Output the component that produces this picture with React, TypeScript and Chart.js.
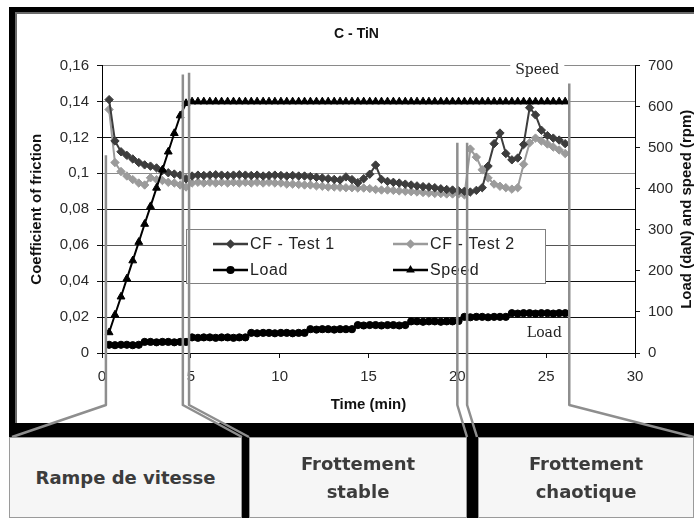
import React, { useEffect, useRef } from "react";
import { Chart, registerables } from "chart.js";

Chart.register(...registerables);

// ---------- data ----------
const TIME = [
  0.4, 0.73, 1.07, 1.4, 1.73, 2.07, 2.4, 2.73, 3.07, 3.4, 3.73, 4.07, 4.4, 4.73,
  5.07, 5.4, 5.73, 6.07, 6.4, 6.73, 7.07, 7.4, 7.73, 8.07, 8.4, 8.73, 9.07, 9.4,
  9.73, 10.07, 10.4, 10.73, 11.07, 11.4, 11.73, 12.07, 12.4, 12.73, 13.07, 13.4,
  13.73, 14.07, 14.4, 14.73, 15.07, 15.4, 15.73, 16.07, 16.4, 16.73, 17.07, 17.4,
  17.73, 18.07, 18.4, 18.73, 19.07, 19.4, 19.73, 20.07, 20.4, 20.73, 21.07, 21.4,
  21.73, 22.07, 22.4, 22.73, 23.07, 23.4, 23.73, 24.07, 24.4, 24.73, 25.07, 25.4,
  25.73, 26.07,
];

const CF_TEST1 = [
  0.141, 0.118, 0.112, 0.11, 0.108, 0.106, 0.1047, 0.104, 0.103, 0.1015, 0.1003, 0.0996, 0.099, 0.097,
  0.0985, 0.099, 0.0988, 0.099, 0.0992, 0.099, 0.0988, 0.099, 0.0992, 0.099, 0.0988, 0.099, 0.0985, 0.0988,
  0.099, 0.0988, 0.0985, 0.0988, 0.0985, 0.0985, 0.0982, 0.0978, 0.0974, 0.097, 0.0966, 0.0963,
  0.098, 0.0965, 0.0948, 0.097, 0.0995, 0.1046, 0.0966, 0.0955, 0.095, 0.0946, 0.094, 0.0935,
  0.093, 0.0926, 0.0924, 0.092, 0.0914, 0.091, 0.0907, 0.0903, 0.09, 0.0896, 0.0905, 0.092,
  0.104, 0.1165, 0.1224, 0.111, 0.1075, 0.1085, 0.116, 0.1365, 0.1325, 0.124, 0.121, 0.1196,
  0.1185, 0.1165,
];

const CF_TEST2 = [
  0.1355, 0.106, 0.101, 0.0985, 0.0965, 0.0946, 0.0935, 0.0975, 0.0965, 0.096, 0.095, 0.0946, 0.0935, 0.0924,
  0.0946, 0.095, 0.0946, 0.095, 0.0946, 0.095, 0.0946, 0.095, 0.0946, 0.095, 0.0946, 0.095, 0.0946, 0.095,
  0.0946, 0.0946, 0.094, 0.094, 0.0938, 0.0935, 0.0935, 0.093, 0.0928, 0.0924, 0.0924, 0.0922,
  0.092, 0.092, 0.0918, 0.0918, 0.0915, 0.091, 0.0907, 0.0907, 0.0905, 0.0902, 0.09, 0.0898,
  0.0896, 0.0893, 0.089, 0.0888, 0.0887, 0.0885, 0.0885, 0.0885, 0.088, 0.1135, 0.109, 0.102,
  0.0974, 0.094, 0.0928, 0.092, 0.0912, 0.092, 0.105, 0.117, 0.1196, 0.118, 0.1163, 0.1146,
  0.113, 0.111,
];

const LOAD = [
  20, 19, 20, 20, 19, 20,
  27, 27, 26, 27, 27, 26, 27, 27,
  38, 37, 38, 38, 37, 38, 38, 37, 38, 38,
  49, 48, 49, 49, 48, 49, 49, 48, 49, 49,
  58, 57, 58, 58, 57, 58, 58, 58,
  68, 67, 68, 68, 67, 68, 68, 67, 68,
  77, 77, 76, 77, 77, 76, 77, 77, 78,
  88, 87, 88, 88, 87, 88, 88, 88,
  97, 96, 97, 97, 96, 97, 97, 96, 97, 97,
];

const SPEED = [
  50, 93, 137, 181, 225, 270, 314, 357, 402, 446, 490, 535, 578, 608,
  612, 612, 612, 612, 612, 612, 612, 612, 612, 612, 612, 612, 612, 612,
  612, 612, 612, 612, 612, 612, 612, 612, 612, 612, 612, 612, 612, 612,
  612, 612, 612, 612, 612, 612, 612, 612, 612, 612, 612, 612, 612, 612,
  612, 612, 612, 612, 612, 612, 612, 612, 612, 612, 612, 612, 612, 612,
  612, 612, 612, 612, 612, 612, 612, 612,
];

const SERIES_LABELS = ["CF - Test 1", "CF - Test 2", "Load", "Speed"];
const TITLE = "C - TiN";
const X_TITLE = "Time (min)";
const Y_TITLE = "Coefficient of friction";
const Y2_TITLE = "Load (daN) and speed (rpm)";
const X_MAX = 30;
const X_STEP = 5;
const CF_MAX = 0.16;
const CF_STEP = 0.02;
const RPM_MAX = 700;
const RPM_STEP = 100;

// phase separators: time (min) and CF level where each line starts
const PHASE_T = [0.22, 4.55, 4.9, 20.0, 20.55, 26.3];
const PHASE_TOP = [0.11, 0.155, 0.156, 0.117, 0.117, 0.15];
const PHASE_LABELS = [["Rampe de vitesse"], ["Frottement", "stable"], ["Frottement", "chaotique"]];

// ---------- layout / style ----------
const W = 694;
const H = 521;
const FONT = "'Liberation Sans', Arial, sans-serif";
const PHASE_END_X = [12, 242, 249, 467, 477, 694];
const BAND_TOP = 423;
const BOX_TOP = 437;
const BOX_BOTTOM = 518;
const BOXES = [
  { left: 9, right: 242 },
  { left: 249, right: 467 },
  { left: 478, right: 694 },
];

const pts = (ys: number[]) => TIME.map((t, i) => ({ x: t, y: ys[i] }));

function drawMarker(ctx: CanvasRenderingContext2D, style: string, x: number, y: number, r: number) {
  ctx.beginPath();
  if (style === "rectRot") {
    ctx.moveTo(x, y - r);
    ctx.lineTo(x + r, y);
    ctx.lineTo(x, y + r);
    ctx.lineTo(x - r, y);
    ctx.closePath();
  } else if (style === "triangle") {
    ctx.moveTo(x, y - r);
    ctx.lineTo(x + r * 0.866, y + r * 0.5);
    ctx.lineTo(x - r * 0.866, y + r * 0.5);
    ctx.closePath();
  } else {
    ctx.arc(x, y, r, 0, Math.PI * 2);
  }
  ctx.fill();
}

const framePlugin = {
  id: "frame",
  beforeDraw(chart: any) {
    const ctx = chart.ctx as CanvasRenderingContext2D;
    ctx.save();
    ctx.fillStyle = "#ffffff";
    ctx.fillRect(0, 0, chart.width, chart.height);
    ctx.fillStyle = "#000000";
    ctx.fillRect(9, 7, 6, BAND_TOP - 7);
    ctx.fillRect(9, 7, W - 9, 5);
    ctx.fillStyle = "#6a6a6a";
    ctx.fillRect(15, 12, 2, BAND_TOP - 12);
    ctx.fillRect(15, 12, W - 15, 2);
    ctx.fillStyle = "#000000";
    ctx.fillRect(9, BAND_TOP, W - 9, BOX_BOTTOM - BAND_TOP);
    ctx.restore();
  },
};

const legendPlugin = {
  id: "boxLegend",
  afterDatasetsDraw(chart: any) {
    const ctx = chart.ctx as CanvasRenderingContext2D;
    const ca = chart.chartArea;
    const x0 = ca.left + 84;
    const y0 = ca.top + 163.5;
    const w = 359;
    const h = 54;
    ctx.save();
    ctx.fillStyle = "#ffffff";
    ctx.fillRect(x0, y0, w, h);
    ctx.strokeStyle = "#808080";
    ctx.lineWidth = 1;
    ctx.strokeRect(Math.round(x0) + 0.5, Math.round(y0) + 0.5, w, h);
    chart.data.datasets.forEach((ds: any, i: number) => {
      const col = i % 2;
      const row = Math.floor(i / 2);
      const sx = x0 + 27 + col * 180;
      const sy = y0 + 15 + row * 26;
      ctx.strokeStyle = ds.borderColor;
      ctx.lineWidth = 2.5;
      ctx.beginPath();
      ctx.moveTo(sx, sy);
      ctx.lineTo(sx + 35, sy);
      ctx.stroke();
      ctx.fillStyle = ds.borderColor;
      drawMarker(ctx, ds.pointStyle, sx + 17.5, sy, ds.pointRadius + 0.5);
      ctx.fillStyle = "#222222";
      ctx.font = `16px ${FONT}`;
      ctx.textBaseline = "middle";
      ctx.textAlign = "left";
      (ctx as any).letterSpacing = "0.6px";
      ctx.fillText(ds.label, sx + 37, sy + 1);
      (ctx as any).letterSpacing = "0px";
    });
    ctx.restore();
  },
};

const annotationPlugin = {
  id: "annotations",
  afterDraw(chart: any) {
    const ctx = chart.ctx as CanvasRenderingContext2D;
    const ca = chart.chartArea;
    const xs = chart.scales.x;
    const ys = chart.scales.y;
    const y2 = chart.scales.y2;
    ctx.save();
    // right axis title (reads bottom to top)
    ctx.fillStyle = "#111111";
    ctx.font = `bold 15px ${FONT}`;
    ctx.textAlign = "center";
    ctx.textBaseline = "middle";
    ctx.translate(y2.right - 2, (ca.top + ca.bottom) / 2);
    ctx.rotate(-Math.PI / 2);
    ctx.fillText(Y2_TITLE, 0, 0);
    ctx.setTransform(1, 0, 0, 1, 0, 0);

    // "Speed" / "Load" in-plot labels
    ctx.font = `14px 'DejaVu Serif', 'Liberation Serif', serif`;
    const spX = xs.getPixelForValue(24.5);
    const spY = ca.top + 4.5;
    const spW = ctx.measureText("Speed").width;
    ctx.fillStyle = "#ffffff";
    ctx.fillRect(spX - spW / 2 - 5, spY - 9, spW + 10, 18);
    ctx.fillStyle = "#222222";
    ctx.fillText("Speed", spX, spY);
    ctx.fillText("Load", xs.getPixelForValue(24.9), ca.bottom - 20);

    // phase separator lines
    ctx.strokeStyle = "#8e8e8e";
    ctx.lineWidth = 2.5;
    ctx.lineJoin = "round";
    const bendY = ca.bottom + 52;
    PHASE_T.forEach((t, i) => {
      const x = xs.getPixelForValue(t);
      ctx.beginPath();
      ctx.moveTo(x, ys.getPixelForValue(PHASE_TOP[i]));
      ctx.lineTo(x, bendY);
      ctx.lineTo(PHASE_END_X[i], BOX_TOP);
      ctx.stroke();
    });
    ctx.restore();
  },
};

function gridColor(c: any) {
  const v = Math.round((c.tick ? c.tick.value : 0) * 100);
  if (v === 16 || v === 14 || v === 10) return "#8a8a8a";
  if (v === 6) return "#555555";
  return "#111111";
}

export default function App() {
  const canvasRef = useRef<HTMLCanvasElement>(null);

  useEffect(() => {
    const canvas = canvasRef.current;
    if (!canvas) return;
    const chart = new Chart(canvas, {
      type: "line",
      data: {
        datasets: [
          {
            label: SERIES_LABELS[0],
            data: pts(CF_TEST1),
            yAxisID: "y",
            borderColor: "#3d3d3d",
            backgroundColor: "#3d3d3d",
            borderWidth: 2,
            pointStyle: "rectRot",
            pointRadius: 4.2,
            pointBorderWidth: 1,
            order: 2,
          },
          {
            label: SERIES_LABELS[1],
            data: pts(CF_TEST2),
            yAxisID: "y",
            borderColor: "#9b9b9b",
            backgroundColor: "#9b9b9b",
            borderWidth: 2,
            pointStyle: "rectRot",
            pointRadius: 4.2,
            pointBorderWidth: 1,
            order: 3,
          },
          {
            label: SERIES_LABELS[2],
            data: pts(LOAD),
            yAxisID: "y2",
            borderColor: "#000000",
            backgroundColor: "#000000",
            borderWidth: 2,
            pointStyle: "circle",
            pointRadius: 3.6,
            pointBorderWidth: 1,
            order: 1,
          },
          {
            label: SERIES_LABELS[3],
            data: pts(SPEED),
            yAxisID: "y2",
            borderColor: "#000000",
            backgroundColor: "#000000",
            borderWidth: 2,
            pointStyle: "triangle",
            pointRadius: 4.5,
            pointBorderWidth: 1,
            order: 0,
          },
        ] as any,
      },
      options: {
        responsive: false,
        animation: false,
        devicePixelRatio: 1,
        layout: { padding: { left: 24, right: 5, top: 14, bottom: 103 } },
        plugins: {
          legend: { display: false },
          tooltip: { enabled: false },
          title: {
            display: true,
            text: TITLE,
            color: "#111111",
            font: { family: FONT, size: 14, weight: "bold" },
            padding: { top: 12, bottom: 22.7 },
          },
        },
        scales: {
          x: {
            type: "linear",
            position: "bottom",
            min: 0,
            max: X_MAX,
            ticks: { stepSize: X_STEP, color: "#2a2a2a", font: { family: FONT, size: 15 }, padding: 10 },
            grid: { drawOnChartArea: false, tickLength: 5, color: "#111111", tickColor: "#111111" },
            border: { color: "#000000", width: 1 },
            title: {
              display: true,
              text: X_TITLE,
              color: "#111111",
              font: { family: FONT, size: 15, weight: "bold" },
              padding: { top: 4, bottom: 4 },
            },
            afterFit: (s: any) => {
              s.height = 65;
            },
          },
          y: {
            type: "linear",
            position: "left",
            min: 0,
            max: CF_MAX,
            ticks: {
              stepSize: CF_STEP,
              color: "#2a2a2a",
              font: { family: FONT, size: 15 },
              padding: 8,
              callback: (v: any) => String(Math.round(Number(v) * 100) / 100).replace(".", ","),
            },
            grid: { color: gridColor, tickLength: 5, tickColor: "#111111", lineWidth: 1 },
            border: { color: "#000000", width: 1 },
            title: {
              display: true,
              text: Y_TITLE,
              color: "#111111",
              font: { family: FONT, size: 15, weight: "bold" },
              padding: { top: 4, bottom: 4 },
            },
            afterFit: (s: any) => {
              s.width = 78;
            },
          },
          y2: {
            type: "linear",
            position: "right",
            min: 0,
            max: RPM_MAX,
            ticks: { stepSize: RPM_STEP, color: "#2a2a2a", font: { family: FONT, size: 15 }, padding: 8 },
            grid: { drawOnChartArea: false, tickLength: 5, color: "#111111", tickColor: "#111111" },
            border: { color: "#000000", width: 1 },
            afterFit: (s: any) => {
              s.width = 54;
            },
          },
        },
      } as any,
      plugins: [framePlugin, legendPlugin, annotationPlugin],
    });
    return () => chart.destroy();
  }, []);

  return (
    <div style={{ position: "absolute", left: 0, top: 0, width: W, height: H, background: "#ffffff", overflow: "hidden" }}>
      <canvas ref={canvasRef} width={W} height={H} style={{ position: "absolute", left: 0, top: 0 }} />
      {BOXES.map((b, i) => (
        <div
          key={i}
          style={{
            position: "absolute",
            left: b.left,
            top: BOX_TOP,
            width: b.right - b.left,
            height: BOX_BOTTOM - BOX_TOP,
            boxSizing: "border-box",
            border: "1px solid #9a9a9a",
            background: "#f6f6f6",
            display: "flex",
            flexDirection: "column",
            alignItems: "center",
            justifyContent: "center",
            fontFamily: "'DejaVu Sans', sans-serif",
            fontWeight: "bold",
            fontSize: 18,
            lineHeight: "28px",
            color: "#3c3c3c",
          }}
        >
          {PHASE_LABELS[i].map((line, j) => (
            <div key={j}>{line}</div>
          ))}
        </div>
      ))}
    </div>
  );
}
